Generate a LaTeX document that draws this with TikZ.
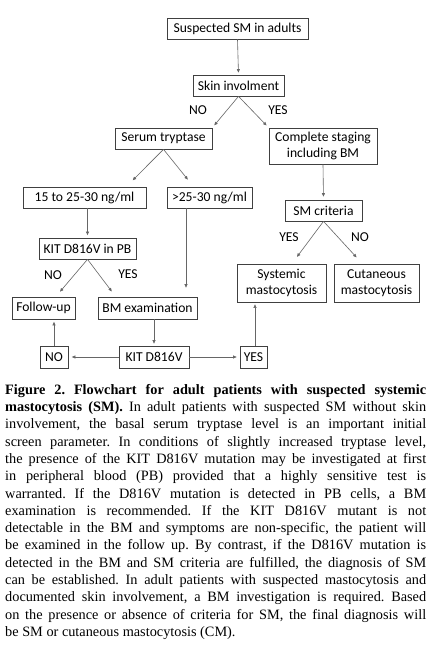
\documentclass[tikz,border=0pt]{standalone}
\usepackage{fontspec}
\setmainfont{Liberation Serif}
\newfontfamily\carlito{Carlito}
\usetikzlibrary{arrows.meta}
\begin{document}
\begin{tikzpicture}[x=1pt,y=-1pt,
  box/.style={draw=black!75, line width=0.7pt, inner sep=0pt, anchor=center,
    font=\carlito\fontsize{13.6}{16}\selectfont, align=center, minimum height=21pt},
  lbl/.style={font=\carlito\fontsize{13.6}{16}\selectfont, inner sep=0pt, anchor=center},
  arr/.style={draw=black!60, line width=0.6pt, -{Triangle[length=3.5pt,width=3pt]}},
]
\useasboundingbox[fill=white] (0,0) rectangle (433,648);
% boxes
\node[box, minimum width=141pt] (s0) at (237.5,28.5) {Suspected SM in adults};
\node[box, minimum width=91pt] (s1) at (238.5,85.5) {Skin involment};
\node[box, minimum width=97pt] (tryp) at (163.5,138.5) {Serum tryptase};
\node[box, minimum width=108pt, minimum height=36pt] (stag) at (323,146) {Complete staging\\including BM};
\node[box, minimum width=123pt] (t15) at (84.5,197.5) {15 to 25-30 ng/ml};
\node[box, minimum width=85pt] (t25) at (209.5,197.5) {>25-30 ng/ml};
\node[box, minimum width=77pt] (smc) at (323.5,210.5) {SM criteria};
\node[box, minimum width=97pt] (kitpb) at (87.5,248.5) {KIT D816V in PB};
\node[box, minimum width=89pt, minimum height=38pt] (sysm) at (281.5,283) {Systemic\\mastocytosis};
\node[box, minimum width=85pt, minimum height=38pt] (cutm) at (376.5,283) {Cutaneous\\mastocytosis};
\node[box, minimum width=63pt, minimum height=22pt] (fu) at (43.5,308) {Follow-up};
\node[box, minimum width=99pt, minimum height=22pt] (bm) at (147.5,308) {BM examination};
\node[box, minimum width=70pt, minimum height=22pt] (kit) at (154,357) {KIT D816V};
\node[box, minimum width=28pt, minimum height=22pt] (nob) at (54,357) {NO};
\node[box, minimum width=27pt, minimum height=22pt] (yesb) at (253.5,357) {YES};
% labels
\node[lbl] (l1) at (198,110) {NO};
\node[lbl] (l2) at (278,110) {YES};
\node[lbl] (l3) at (289,237) {YES};
\node[lbl] (l4) at (360,237) {NO};
\node[lbl] (l5) at (53,275) {NO};
\node[lbl] (l6) at (128,274) {YES};
% connectors
\draw[arr, shorten >=2pt] (s0.south) -- (s1.north);
\draw[arr, shorten >=3pt] (s1.south) -- (tryp.north east);
\draw[arr, shorten >=3pt] (s1.south) -- (stag.north west);
\draw[arr, shorten >=9pt] (tryp.south) -- ([xshift=-20pt]t15.north east);
\draw[arr, shorten >=9pt] (tryp.south) -- ([xshift=-16pt]t25.north);
\draw[arr, shorten >=2.5pt] (kitpb.north |- t15.south) -- (kitpb.north);
\draw[arr, shorten >=9pt] ([xshift=-23.5pt]t25.south) -- ([xshift=38.5pt]bm.north);
\draw[arr, shorten >=3pt] (stag.south) -- (smc.north);
\draw[arr, shorten >=8.5pt] (smc.south) -- ([xshift=10.4pt]sysm.north);
\draw[arr, shorten >=8.5pt] (smc.south) -- ([xshift=-14.2pt]cutm.north);
\draw[arr, shorten >=6.5pt] (kitpb.south) -- ([xshift=12.3pt]fu.north);
\draw[arr, shorten >=6.5pt] (kitpb.south) -- ([xshift=-31.8pt]bm.north);
\draw[arr, shorten >=2pt] (kit.north |- bm.south) -- (kit.north);
\draw[arr, shorten >=3.5pt] (kit.west) -- (nob.east);
\draw[arr, shorten >=2.5pt] (nob.north) -- (nob.north |- fu.south);
\draw[arr, shorten >=3pt] (kit.east) -- (yesb.west);
\draw[arr, shorten >=2pt] ([xshift=1.5pt]yesb.north) -- ([xshift=1.5pt]yesb.north |- sysm.south);
% caption
\node[anchor=north west, inner sep=0pt, text width=421pt, align=justify,
  font=\fontsize{14.3}{17.3}\selectfont\frenchspacing] (cap) at (5,384) {%
\textbf{Figure 2. Flowchart for adult patients with suspected systemic\linebreak
mastocytosis (SM).} In adult patients with suspected SM without skin\linebreak
involvement, the basal serum tryptase level is an important initial\linebreak
screen parameter. In conditions of slightly increased tryptase level,\linebreak
the presence of the KIT D816V mutation may be investigated at first\linebreak
in peripheral blood (PB) provided that a highly sensitive test is\linebreak
warranted. If the D816V mutation is detected in PB cells, a BM\linebreak
examination is recommended. If the KIT D816V mutant is not\linebreak
detectable in the BM and symptoms are non-specific, the patient will\linebreak
be examined in the follow up. By contrast, if the D816V mutation is\linebreak
detected in the BM and SM criteria are fulfilled, the diagnosis of SM\linebreak
can be established. In adult patients with suspected mastocytosis and\linebreak
documented skin involvement, a BM investigation is required. Based\linebreak
on the presence or absence of criteria for SM, the final diagnosis will\linebreak
be SM or cutaneous mastocytosis (CM).};
\end{tikzpicture}
\end{document}
